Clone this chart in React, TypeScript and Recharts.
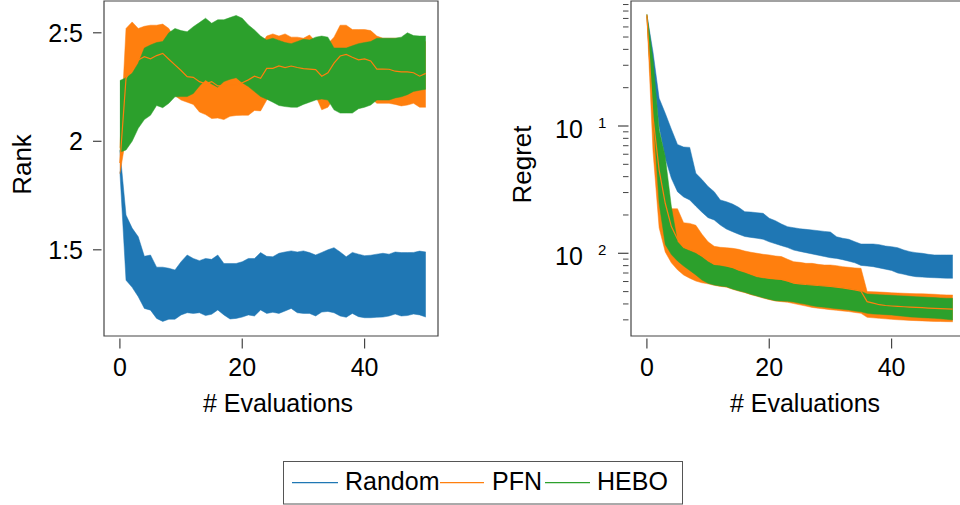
import { ComposedChart, Area, Line, XAxis, YAxis, ReferenceArea } from 'recharts';

const FONT = '"Liberation Sans", Arial, Helvetica, sans-serif';
const FRAME = '#444';

const COLORS = { random: '#1f77b4', pfn: '#ff7f0e', hebo: '#2ca02c' };
const seriesNames = ['Random', 'PFN', 'HEBO'];

const evaluations = [
  0, 1, 2, 3, 4, 5, 6, 7, 8, 9,
  10, 11, 12, 13, 14, 15, 16, 17, 18, 19,
  20, 21, 22, 23, 24, 25, 26, 27, 28, 29,
  30, 31, 32, 33, 34, 35, 36, 37, 38, 39,
  40, 41, 42, 43, 44, 45, 46, 47, 48, 49,
  50,
];
const evalTicks = [0, 20, 40];

// ---- Rank panel ----
const rankTicks = [1.5, 2, 2.5];
const rankTickLabels = ['1:5', '2', '2:5'];

const rankRandomHi = [
  1.96, 1.66, 1.60, 1.56, 1.47, 1.476, 1.42, 1.42, 1.415, 1.407,
  1.445, 1.476, 1.46, 1.45, 1.46, 1.456, 1.476, 1.437, 1.437, 1.437,
  1.445, 1.46, 1.46, 1.487, 1.47, 1.468, 1.484, 1.49, 1.495, 1.49,
  1.495, 1.487, 1.476, 1.488, 1.50, 1.51, 1.49, 1.468, 1.488, 1.48,
  1.473, 1.475, 1.48, 1.484, 1.48, 1.49, 1.487, 1.487, 1.488, 1.494,
  1.49,
];
const rankRandomLo = [
  1.86, 1.36, 1.327, 1.284, 1.23, 1.222, 1.184, 1.17, 1.18, 1.18,
  1.20, 1.21, 1.207, 1.21, 1.197, 1.203, 1.223, 1.20, 1.181, 1.184,
  1.19, 1.20, 1.195, 1.223, 1.207, 1.212, 1.207, 1.218, 1.23, 1.21,
  1.207, 1.207, 1.195, 1.213, 1.216, 1.21, 1.195, 1.189, 1.207, 1.192,
  1.187, 1.187, 1.189, 1.19, 1.195, 1.204, 1.195, 1.197, 1.204, 1.20,
  1.19,
];
const rankPfnHi = [
  1.97, 2.52, 2.55, 2.52, 2.53, 2.535, 2.535, 2.54, 2.52, 2.47,
  2.44, 2.42, 2.41, 2.40, 2.39, 2.40, 2.38, 2.38, 2.38, 2.38,
  2.39, 2.40, 2.42, 2.44, 2.485, 2.495, 2.485, 2.495, 2.48, 2.48,
  2.475, 2.49, 2.46, 2.45, 2.45, 2.48, 2.535, 2.535, 2.515, 2.515,
  2.515, 2.51, 2.485, 2.475, 2.475, 2.475, 2.475, 2.46, 2.46, 2.45,
  2.46,
];
const rankPfnLo = [
  1.85, 2.02, 2.10, 2.17, 2.19, 2.20, 2.22, 2.22, 2.22, 2.21,
  2.19, 2.18, 2.17, 2.135, 2.123, 2.105, 2.107, 2.10, 2.115, 2.119,
  2.12, 2.12, 2.142, 2.14, 2.19, 2.22, 2.20, 2.20, 2.20, 2.20,
  2.20, 2.21, 2.21, 2.145, 2.157, 2.20, 2.20, 2.20, 2.20, 2.20,
  2.20, 2.20, 2.175, 2.175, 2.175, 2.17, 2.163, 2.167, 2.175, 2.157,
  2.157,
];
const rankPfnMean = [
  1.90, 2.29, 2.34, 2.375, 2.39, 2.38, 2.395, 2.405, 2.378, 2.352,
  2.326, 2.298, 2.295, 2.275, 2.265, 2.275, 2.255, 2.255, 2.26, 2.26,
  2.27, 2.283, 2.30, 2.29, 2.336, 2.336, 2.347, 2.34, 2.347, 2.34,
  2.335, 2.333, 2.33, 2.30, 2.316, 2.36, 2.393, 2.40, 2.387, 2.375,
  2.38, 2.37, 2.333, 2.333, 2.332, 2.323, 2.32, 2.32, 2.316, 2.30,
  2.313,
];
const rankHeboHi = [
  2.28, 2.293, 2.313, 2.36, 2.43, 2.444, 2.455, 2.46, 2.50, 2.52,
  2.51, 2.505, 2.528, 2.547, 2.567, 2.544, 2.56, 2.56, 2.57, 2.58,
  2.567, 2.536, 2.513, 2.485, 2.467, 2.475, 2.465, 2.455, 2.45, 2.46,
  2.47, 2.467, 2.48, 2.485, 2.48, 2.43, 2.43, 2.43, 2.44, 2.45,
  2.455, 2.46, 2.475, 2.475, 2.475, 2.475, 2.48, 2.50, 2.487, 2.485,
  2.485,
];
const rankHeboLo = [
  1.95, 1.96, 2.0, 2.06, 2.10, 2.12, 2.165, 2.155, 2.175, 2.205,
  2.206, 2.206, 2.22, 2.255, 2.283, 2.264, 2.249, 2.275, 2.286, 2.293,
  2.27, 2.252, 2.229, 2.206, 2.194, 2.18, 2.165, 2.16, 2.157, 2.157,
  2.17, 2.18, 2.19, 2.195, 2.19, 2.145, 2.13, 2.13, 2.13, 2.15,
  2.157, 2.167, 2.19, 2.19, 2.19, 2.20, 2.205, 2.215, 2.23, 2.235,
  2.24,
];

// ---- Regret panel (values read as log10 exponents) ----
const regretTicks = [
  0.003, 0.004, 0.005, 0.006, 0.007, 0.008, 0.009,
  0.01, 0.02, 0.03, 0.04, 0.05, 0.06, 0.07, 0.08, 0.09,
  0.1, 0.2, 0.3, 0.4, 0.5, 0.6, 0.7, 0.8, 0.9,
];
const regretMajor: Record<string, string> = { '0.1': '1', '0.01': '2' };

const regretRandomHiExp = [
  -0.128, -0.42, -0.782, -0.90, -1.025, -1.145, -1.165, -1.168, -1.372, -1.42,
  -1.475, -1.516, -1.581, -1.595, -1.613, -1.639, -1.673, -1.676, -1.681, -1.686,
  -1.725, -1.744, -1.77, -1.791, -1.799, -1.807, -1.812, -1.817, -1.822, -1.828,
  -1.833, -1.87, -1.882, -1.89, -1.909, -1.927, -1.927, -1.927, -1.932, -1.943,
  -1.948, -1.956, -1.974, -1.987, -1.995, -2.0, -2.008, -2.013, -2.013, -2.013,
  -2.013,
];
const regretRandomLoExp = [
  -0.15, -0.56, -1.005, -1.254, -1.411, -1.516, -1.557, -1.581, -1.63, -1.677,
  -1.72, -1.738, -1.778, -1.81, -1.83, -1.85, -1.868, -1.875, -1.882, -1.89,
  -1.91, -1.925, -1.94, -1.955, -1.975, -1.985, -1.995, -2.005, -2.015, -2.025,
  -2.035, -2.04, -2.05, -2.062, -2.075, -2.095, -2.10, -2.105, -2.115, -2.125,
  -2.135, -2.155, -2.165, -2.176, -2.184, -2.187, -2.19, -2.192, -2.194, -2.196,
  -2.196,
];
const regretPfnHiExp = [
  -0.12, -0.62, -1.10, -1.45, -1.65, -1.65, -1.76, -1.765, -1.78, -1.85,
  -1.91, -1.945, -1.953, -1.956, -1.961, -1.969, -1.982, -1.992, -2.0, -2.008,
  -2.013, -2.021, -2.026, -2.047, -2.066, -2.071, -2.079, -2.079, -2.087, -2.092,
  -2.092, -2.097, -2.105, -2.11, -2.115, -2.118, -2.301, -2.302, -2.304, -2.307,
  -2.31, -2.312, -2.314, -2.316, -2.317, -2.318, -2.32, -2.322, -2.325, -2.327,
  -2.328,
];
const regretPfnLoExp = [
  -0.14, -1.20, -1.80, -1.99, -2.075, -2.13, -2.17, -2.196, -2.218, -2.232,
  -2.24, -2.252, -2.26, -2.266, -2.283, -2.297, -2.309, -2.325, -2.338, -2.352,
  -2.364, -2.375, -2.38, -2.385, -2.395, -2.405, -2.415, -2.425, -2.432, -2.437,
  -2.443, -2.448, -2.453, -2.458, -2.465, -2.472, -2.503, -2.507, -2.511, -2.515,
  -2.519, -2.522, -2.525, -2.527, -2.529, -2.531, -2.533, -2.535, -2.536, -2.537,
  -2.538,
];
const regretPfnMeanExp = [
  -0.13, -0.93, -1.346, -1.607, -1.79, -1.89, -1.95, -1.97, -1.99, -2.02,
  -2.055, -2.085, -2.09, -2.10, -2.11, -2.13, -2.145, -2.162, -2.18, -2.188,
  -2.195, -2.2, -2.205, -2.218, -2.234, -2.24, -2.245, -2.248, -2.253, -2.256,
  -2.261, -2.266, -2.272, -2.279, -2.287, -2.298, -2.38, -2.392, -2.404, -2.41,
  -2.414, -2.417, -2.42, -2.423, -2.425, -2.427, -2.43, -2.432, -2.434, -2.436,
  -2.438,
];
const regretHeboHiExp = [
  -0.12, -0.48, -1.03, -1.241, -1.634, -1.91, -1.961, -1.98, -2.0, -2.03,
  -2.066, -2.092, -2.097, -2.105, -2.118, -2.137, -2.152, -2.17, -2.189, -2.196,
  -2.202, -2.207, -2.21, -2.223, -2.236, -2.241, -2.246, -2.249, -2.254, -2.257,
  -2.262, -2.267, -2.273, -2.28, -2.288, -2.299, -2.32, -2.322, -2.325, -2.328,
  -2.33, -2.333, -2.335, -2.338, -2.341, -2.343, -2.346, -2.348, -2.351, -2.353,
  -2.354,
];
const regretHeboLoExp = [
  -0.14, -0.90, -1.607, -1.93, -2.01, -2.06, -2.10, -2.135, -2.17, -2.21,
  -2.236, -2.249, -2.257, -2.262, -2.28, -2.294, -2.306, -2.322, -2.335, -2.349,
  -2.361, -2.372, -2.375, -2.377, -2.383, -2.393, -2.401, -2.412, -2.419, -2.424,
  -2.43, -2.435, -2.44, -2.445, -2.453, -2.459, -2.472, -2.477, -2.479, -2.482,
  -2.485, -2.49, -2.495, -2.50, -2.503, -2.506, -2.508, -2.511, -2.514, -2.519,
  -2.524,
];

const rankRows = evaluations.map((x, i) => ({
  x,
  random: [rankRandomLo[i], rankRandomHi[i]],
  pfn: [rankPfnLo[i], rankPfnHi[i]],
  hebo: [rankHeboLo[i], rankHeboHi[i]],
  pfnMean: rankPfnMean[i],
}));

const p10 = (e: number) => Math.pow(10, e);
const regretRows = evaluations.map((x, i) => ({
  x,
  random: [p10(regretRandomLoExp[i]), p10(regretRandomHiExp[i])],
  pfn: [p10(regretPfnLoExp[i]), p10(regretPfnHiExp[i])],
  hebo: [p10(regretHeboLoExp[i]), p10(regretHeboHiExp[i])],
  pfnMean: p10(regretPfnMeanExp[i]),
}));

const X_DOMAIN: [number, number] = [-2.6, 52];
const RANK_DOMAIN: [number, number] = [1.1028, 2.6465];
const REGRET_DOMAIN: [number, number] = [0.00224, 0.9594];

function EvalTick({ x, y, payload }: any) {
  return (
    <g>
      <line x1={x} x2={x} y1={y + 2.5} y2={y + 12.5} stroke={FRAME} strokeWidth={1.2} />
      <text x={x} y={y + 31} textAnchor="middle" dominantBaseline="central" fontSize={25} fontFamily={FONT} fill="#000">
        {payload.value}
      </text>
    </g>
  );
}

function RankTick({ x, y, payload }: any) {
  const idx = rankTicks.indexOf(payload.value);
  return (
    <g>
      <line x1={x - 11} x2={x - 2.5} y1={y} y2={y} stroke={FRAME} strokeWidth={1.2} />
      <text x={x - 21} y={y} textAnchor="end" dominantBaseline="central" fontSize={25} fontFamily={FONT} fill="#000">
        {rankTickLabels[idx]}
      </text>
    </g>
  );
}

function RegretTick({ x, y, payload }: any) {
  const sup = regretMajor[String(payload.value)];
  if (!sup) {
    return <line x1={x - 8} x2={x - 2.5} y1={y} y2={y} stroke={FRAME} strokeWidth={1} />;
  }
  return (
    <g>
      <line x1={x - 13} x2={x - 2.5} y1={y} y2={y} stroke={FRAME} strokeWidth={1.2} />
      <text x={x - 76} y={y + 2.5} dominantBaseline="central" fontSize={25} fontFamily={FONT} fill="#000">10</text>
      <text x={x - 33} y={y - 4} dominantBaseline="central" fontSize={15} fontFamily={FONT} fill="#000">{sup}</text>
    </g>
  );
}

const xLabel = ({ viewBox }: any) => (
  <text
    x={viewBox.x + viewBox.width / 2 + 7}
    y={viewBox.y + 67}
    textAnchor="middle"
    dominantBaseline="central"
    fontSize={25}
    fontFamily={FONT}
    fill="#000"
  >
    # Evaluations
  </text>
);

const yLabel = (text: string) => ({ viewBox }: any) => {
  const cx = viewBox.x + 22;
  const cy = viewBox.y + viewBox.height / 2 - 4;
  return (
    <text
      x={cx}
      y={cy}
      transform={`rotate(-90, ${cx}, ${cy})`}
      textAnchor="middle"
      dominantBaseline="central"
      fontSize={26}
      fontFamily={FONT}
      fill="#000"
    >
      {text}
    </text>
  );
};

function Bands() {
  return [
    <Area key="r" type="linear" dataKey="random" fill={COLORS.random} fillOpacity={1} stroke={COLORS.random} strokeWidth={0.5} dot={false} activeDot={false} isAnimationActive={false} />,
    <Area key="p" type="linear" dataKey="pfn" fill={COLORS.pfn} fillOpacity={1} stroke={COLORS.pfn} strokeWidth={0.5} dot={false} activeDot={false} isAnimationActive={false} />,
    <Area key="h" type="linear" dataKey="hebo" fill={COLORS.hebo} fillOpacity={1} stroke={COLORS.hebo} strokeWidth={0.5} dot={false} activeDot={false} isAnimationActive={false} />,
    <Line key="m" type="linear" dataKey="pfnMean" stroke={COLORS.pfn} strokeWidth={1.2} dot={false} activeDot={false} isAnimationActive={false} />,
  ];
}

function RankChart() {
  return (
    <ComposedChart width={445} height={420} data={rankRows} margin={{ top: 1, right: 7, bottom: 0, left: 0 }}>
      <XAxis
        dataKey="x" type="number" domain={X_DOMAIN} ticks={evalTicks} interval={0} allowDataOverflow
        axisLine={false} tickLine={false} tickSize={0} tickMargin={0} height={84}
        tick={<EvalTick />} label={{ content: xLabel }}
      />
      <YAxis
        type="number" domain={RANK_DOMAIN} ticks={rankTicks} interval={0} allowDataOverflow
        axisLine={false} tickLine={false} tickSize={0} tickMargin={0} width={104}
        tick={<RankTick />} label={{ content: yLabel('Rank') }}
      />
      {Bands()}
      <ReferenceArea
        x1={X_DOMAIN[0]} x2={X_DOMAIN[1]} y1={RANK_DOMAIN[0]} y2={RANK_DOMAIN[1]}
        fill="none" stroke={FRAME} strokeWidth={1.2} ifOverflow="visible"
      />
    </ComposedChart>
  );
}

function RegretChart() {
  return (
    <ComposedChart width={480} height={420} data={regretRows} margin={{ top: 1, right: 15, bottom: 0, left: 0 }}>
      <XAxis
        dataKey="x" type="number" domain={X_DOMAIN} ticks={evalTicks} interval={0} allowDataOverflow
        axisLine={false} tickLine={false} tickSize={0} tickMargin={0} height={84}
        tick={<EvalTick />} label={{ content: xLabel }}
      />
      <YAxis
        type="number" scale="log" domain={REGRET_DOMAIN} ticks={regretTicks} interval={0} allowDataOverflow
        axisLine={false} tickLine={false} tickSize={0} tickMargin={0} width={131}
        tick={<RegretTick />} label={{ content: yLabel('Regret') }}
      />
      {Bands()}
      <ReferenceArea
        x1={X_DOMAIN[0]} x2={X_DOMAIN[1]} y1={REGRET_DOMAIN[0]} y2={REGRET_DOMAIN[1]}
        fill="none" stroke={FRAME} strokeWidth={1.2} ifOverflow="visible"
      />
    </ComposedChart>
  );
}

// legend item layout: line start/end and text start, relative to the legend box
const legendLayout = [
  { x1: 9, x2: 55, tx: 62 },
  { x1: 157, x2: 201, tx: 209 },
  { x1: 262, x2: 307, tx: 314 },
];
const legendColors = [COLORS.random, COLORS.pfn, COLORS.hebo];

function ChartLegend() {
  return (
    <svg width={402} height={44} style={{ position: 'absolute', left: 283, top: 461 }}>
      <rect x={0.5} y={0.5} width={399} height={42.5} fill="#fff" stroke="#555" strokeWidth={1} />
      {seriesNames.map((name, i) => (
        <g key={name}>
          <line x1={legendLayout[i].x1} x2={legendLayout[i].x2} y1={21.7} y2={21.7} stroke={legendColors[i]} strokeWidth={1.2} />
          <text x={legendLayout[i].tx} y={19.5} dominantBaseline="central" fontSize={25} fontFamily={FONT} fill="#000">
            {name}
          </text>
        </g>
      ))}
    </svg>
  );
}

export default function App() {
  return (
    <div style={{ position: 'absolute', left: 0, top: 0, width: 960, height: 505, overflow: 'hidden', background: '#fff', fontFamily: FONT }}>
      <div style={{ position: 'absolute', left: 0, top: 0 }}>
        <RankChart />
      </div>
      <div style={{ position: 'absolute', left: 500, top: 0 }}>
        <RegretChart />
      </div>
      <ChartLegend />
    </div>
  );
}
